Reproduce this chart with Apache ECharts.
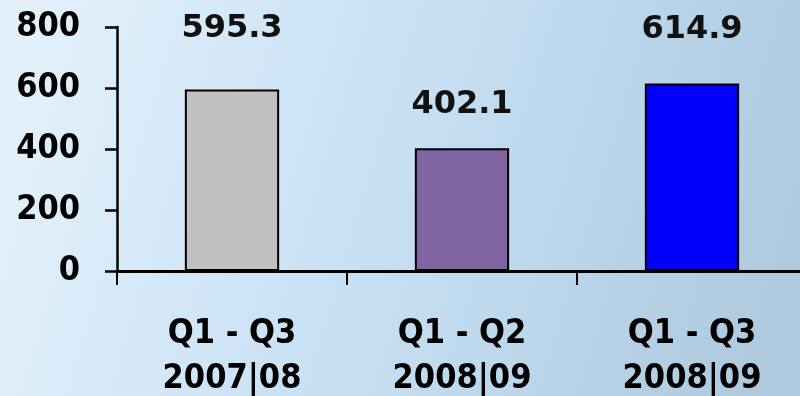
<!DOCTYPE html>
<html>
<head>
<meta charset="utf-8">
<script src="https://cdn.jsdelivr.net/npm/echarts@6/dist/echarts.min.js"></script>
<style>
  html, body { margin: 0; padding: 0; }
  #chart { width: 800px; height: 396px; }
</style>
</head>
<body>
<div id="chart"></div>
<script>
// Period labels and results
const categories = ['Q1 - Q3\n2007|08', 'Q1 - Q2\n2008|09', 'Q1 - Q3\n2008|09'];
const values = [595.3, 402.1, 614.9];
const barColors = ['#c0c0c0', '#8064a2', '#0000ff'];
const yTicks = { min: 0, max: 800, step: 200 };

// gap between each bar top and its value label
const labelGaps = [45, 28, 38];

const axisFont = '"DejaVu Sans Condensed", "DejaVu Sans", sans-serif';
const valueFont = '"DejaVu Sans", Verdana, sans-serif';

const chart = echarts.init(document.getElementById('chart'), null, { renderer: 'canvas' });

chart.setOption({
  animation: false,
  backgroundColor: {
    type: 'linear', x: 0, y: 0.2, x2: 1, y2: 0.8,
    colorStops: [
      { offset: 0, color: '#e4f1fb' },
      { offset: 0.45, color: '#c9e1f5' },
      { offset: 0.75, color: '#b9d4e9' },
      { offset: 1, color: '#aec8dd' }
    ]
  },
  // the plot runs slightly past the right edge of the canvas
  grid: { left: 117, top: 27, width: 690, bottom: 125, outerBoundsMode: 'none' },
  xAxis: {
    type: 'category',
    data: categories,
    boundaryGap: true,
    axisLine: { lineStyle: { color: '#000', width: 3 } },
    axisTick: { show: true, length: 14, lineStyle: { color: '#000', width: 2 } },
    axisLabel: {
      color: '#000',
      fontFamily: axisFont,
      fontWeight: 'bold',
      fontSize: 34,
      lineHeight: 45,
      margin: 41,
      interval: 0
    }
  },
  yAxis: {
    type: 'value',
    min: yTicks.min,
    max: yTicks.max,
    interval: yTicks.step,
    splitLine: { show: false },
    axisLine: { show: true, lineStyle: { color: '#000', width: 2.5 } },
    axisTick: { show: true, length: 12, lineStyle: { color: '#000', width: 2.5 } },
    axisLabel: {
      color: '#000',
      fontFamily: axisFont,
      fontWeight: 'bold',
      fontSize: 34,
      margin: 37
    }
  },
  series: [{
    type: 'bar',
    barWidth: '41%',
    data: values.map((v, i) => ({
      value: v,
      itemStyle: { color: barColors[i] },
      label: { distance: labelGaps[i] }
    })),
    itemStyle: { borderColor: '#000', borderWidth: 2 },
    label: {
      show: true,
      position: 'top',
      color: '#111',
      fontFamily: valueFont,
      fontWeight: 'bold',
      fontSize: 32,
      formatter: p => p.value.toFixed(1)
    }
  }]
});
</script>
</body>
</html>
